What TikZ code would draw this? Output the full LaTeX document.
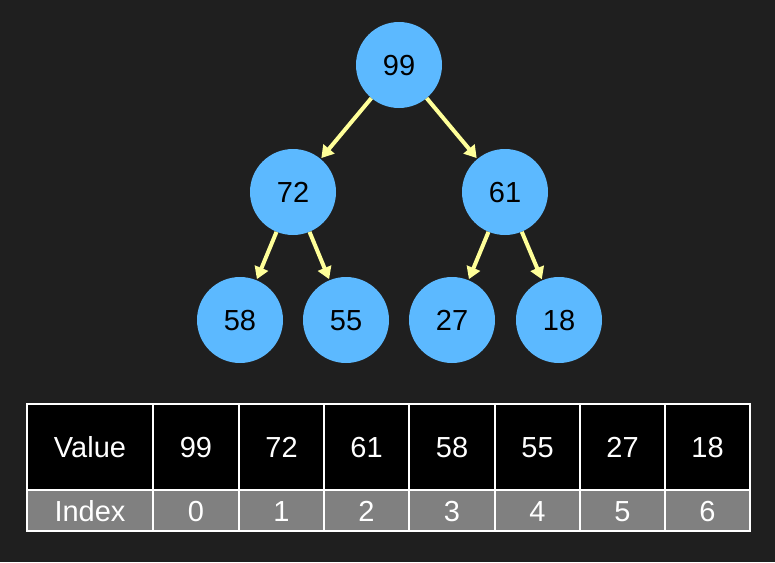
\documentclass[tikz,border=0pt]{standalone}
\usepackage{fontspec}
\setmainfont{Liberation Sans}
\usetikzlibrary{arrows.meta}
\definecolor{bg}{HTML}{1F1F1F}
\definecolor{nodeblue}{HTML}{5CB9FF}
\definecolor{arr}{HTML}{FFFF99}
\definecolor{idx}{HTML}{808080}
\begin{document}
\begin{tikzpicture}[x=1pt,y=-1pt,
  hn/.style={circle,fill=nodeblue,minimum size=86pt,inner sep=0pt,font=\fontsize{29}{32}\selectfont,text=black,text height=21pt,text depth=0pt},
  ar/.style={draw=arr,line width=4pt,-{Triangle[length=12pt,width=14pt]},shorten >=1pt},
  cellv/.style={draw=white,line width=1.2pt,fill=black},
  celli/.style={draw=white,line width=1.2pt,fill=idx},
  ct/.style={text=white,font=\fontsize{29}{32}\selectfont,text height=21pt,text depth=0pt}]
\fill[bg] (0,0) rectangle (775,562);
\useasboundingbox (0,0) rectangle (775,562);
\node[hn] (n0) at (399,65) {99};
\node[hn] (n1) at (293,192) {72};
\node[hn] (n2) at (505,192) {61};
\node[hn] (n3) at (240,320) {58};
\node[hn] (n4) at (346,320) {55};
\node[hn] (n5) at (452,320) {27};
\node[hn] (n6) at (559,320) {18};
\draw[ar] (n0) -- (n1);
\draw[ar] (n0) -- (n2);
\draw[ar] (n1) -- (n3);
\draw[ar] (n1) -- (n4);
\draw[ar] (n2) -- (n5);
\draw[ar] (n2) -- (n6);
\foreach \a/\b/\v/\i [count=\k] in {27/153/Value/Index,153/239/99/0,239/324/72/1,324/409/61/2,409/495/58/3,495/580/55/4,580/665/27/5,665/750/18/6}{
  \path[cellv] (\a,404) rectangle (\b,490);
  \node[ct] (v\k) at ({(\a+\b)/2},447) {\v};
  \path[celli] (\a,490) rectangle (\b,531);
  \node[ct] (i\k) at ({(\a+\b)/2},511) {\i};
}
\end{tikzpicture}
\end{document}
